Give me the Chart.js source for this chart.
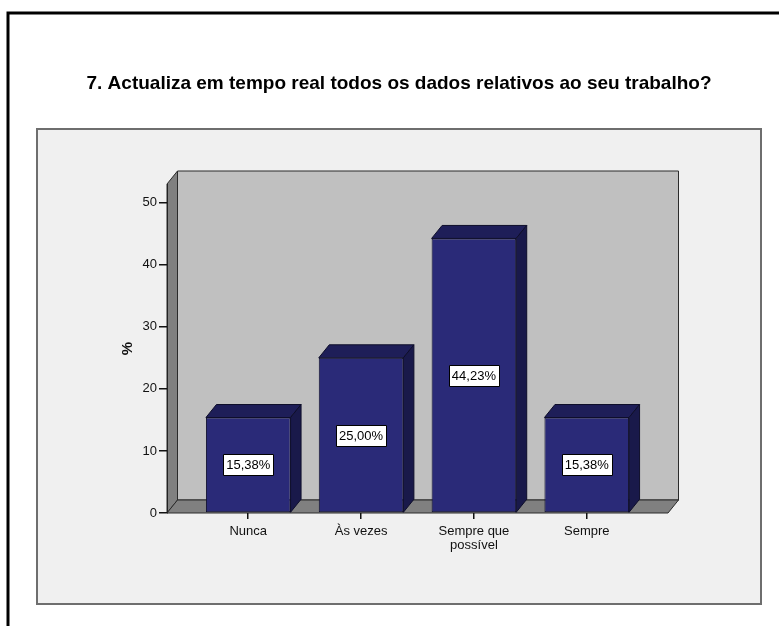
<!DOCTYPE html>
<html><head><meta charset="utf-8">
<script src="https://cdn.jsdelivr.net/npm/chart.js@4/dist/chart.umd.min.js"></script>
<style>html,body{margin:0;padding:0;background:#fff}canvas{display:block}</style>
</head><body>
<canvas id="c" width="779" height="626"></canvas>
<script>
const chartTitle = '7. Actualiza em tempo real todos os dados relativos ao seu trabalho?';
const categories = [['Nunca'], ['Às vezes'], ['Sempre que', 'possível'], ['Sempre']];
const percents = [15.38, 25.00, 44.23, 15.38];
const valueLabels = ['15,38%', '25,00%', '44,23%', '15,38%'];
const yTicks = [0, 10, 20, 30, 40, 50];
const yAxisTitle = '%';

const FONT = '"Liberation Sans", Arial, sans-serif';
Chart.defaults.font.family = FONT;
const DX = 10.5, DY = 13;

function poly(ctx, pts, fill) {
  ctx.beginPath();
  pts.forEach((p, i) => i ? ctx.lineTo(p[0], p[1]) : ctx.moveTo(p[0], p[1]));
  ctx.closePath();
  ctx.fillStyle = fill; ctx.fill(); ctx.stroke();
}

const frame = {
  id: 'frame',
  beforeDraw(chart) {
    const ctx = chart.ctx, a = chart.chartArea;
    ctx.save();
    ctx.fillStyle = '#fff'; ctx.fillRect(0, 0, chart.width, chart.height);
    ctx.strokeStyle = '#000'; ctx.lineWidth = 3;
    ctx.beginPath(); ctx.moveTo(8, chart.height); ctx.lineTo(8, 13); ctx.lineTo(chart.width, 13); ctx.stroke();
    ctx.fillStyle = '#f0f0f0'; ctx.fillRect(37, 129, 724, 475);
    ctx.strokeStyle = '#6e6e6e'; ctx.lineWidth = 2; ctx.strokeRect(37, 129, 724, 475);
    ctx.fillStyle = '#000'; ctx.font = 'bold 19px ' + FONT;
    ctx.textAlign = 'center'; ctx.textBaseline = 'alphabetic';
    ctx.fillText(chartTitle, 399, 89);
    const L = a.left, R = a.right, T = a.top, B = a.bottom;
    ctx.lineWidth = 1; ctx.strokeStyle = '#2b2b2b'; ctx.lineJoin = 'round';
    poly(ctx, [[L + DX, T - DY], [R + DX, T - DY], [R + DX, B - DY], [L + DX, B - DY]], '#c0c0c0');
    poly(ctx, [[L, T], [L + DX, T - DY], [L + DX, B - DY], [L, B]], '#808080');
    poly(ctx, [[L, B], [L + DX, B - DY], [R + DX, B - DY], [R, B]], '#808080');
    ctx.restore();
  }
};

const bars3d = {
  id: 'bars3d',
  afterDatasetsDraw(chart) {
    const ctx = chart.ctx, meta = chart.getDatasetMeta(0);
    ctx.save();
    ctx.lineWidth = 1; ctx.strokeStyle = '#0e0e2a'; ctx.lineJoin = 'round';
    meta.data.forEach(el => {
      const {x, y, base, width} = el.getProps(['x', 'y', 'base', 'width'], true);
      const l = x - width / 2, r = x + width / 2;
      poly(ctx, [[l, y], [l + DX, y - DY], [r + DX, y - DY], [r, y]], '#1e1e58');
      poly(ctx, [[r, y], [r + DX, y - DY], [r + DX, base - DY], [r, base]], '#19194a');
    });
    ctx.font = '13px ' + FONT;
    meta.data.forEach((el, i) => {
      const {x, y, base} = el.getProps(['x', 'y', 'base'], true);
      const cy = (y + base) / 2, t = valueLabels[i];
      const w = Math.round(ctx.measureText(t).width + 6), h = 21;
      const bx = Math.round(x - w / 2) + 0.5, by = Math.round(cy - h / 2) + 0.5;
      ctx.fillStyle = '#fff'; ctx.fillRect(bx, by, w, h);
      ctx.strokeStyle = '#000'; ctx.strokeRect(bx, by, w, h);
      ctx.fillStyle = '#000'; ctx.textAlign = 'center'; ctx.textBaseline = 'middle';
      ctx.fillText(t, x, cy + 1);
    });
    ctx.restore();
  }
};

new Chart(document.getElementById('c'), {
  type: 'bar',
  data: {
    datasets: [{
      data: percents.map((v, i) => ({x: i, y: v})),
      backgroundColor: '#2a2a78',
      borderColor: '#10102e',
      borderWidth: 1,
      borderSkipped: false,
      barPercentage: 0.75,
      categoryPercentage: 1
    }]
  },
  options: {
    responsive: false,
    animation: false,
    devicePixelRatio: 1,
    layout: {padding: {left: 107, right: 111, top: 184, bottom: 63}},
    plugins: {legend: {display: false}, tooltip: {enabled: false}, title: {display: false}},
    scales: {
      x: {
        type: 'linear', min: -0.72, max: 3.72, bounds: 'data', offset: false,
        afterBuildTicks: s => { s.ticks = categories.map((c, i) => ({value: i})); },
        afterFit: s => { s.height = 50; },
        ticks: {
          callback: v => categories[v], color: '#111', padding: 6, autoSkip: false,
          maxRotation: 0, font: {size: 13, lineHeight: 1.05}
        },
        grid: {offset: false, drawOnChartArea: false, drawTicks: true, tickLength: 6, color: '#111', lineWidth: 1.5},
        border: {display: false}
      },
      y: {
        min: 0, max: 53, bounds: 'data',
        afterBuildTicks: s => { s.ticks = yTicks.map(v => ({value: v})); },
        afterFit: s => { s.width = 60; },
        ticks: {color: '#111', padding: 2, font: {size: 13}},
        grid: {drawOnChartArea: false, drawTicks: true, tickLength: 8, color: '#111', lineWidth: 1.5},
        border: {display: true, color: '#222', width: 1},
        title: {display: true, text: yAxisTitle, color: '#111', font: {size: 15, weight: 'bold'}, padding: {top: 12, bottom: 0}}
      }
    }
  },
  plugins: [frame, bars3d]
});
</script>
</body></html>
